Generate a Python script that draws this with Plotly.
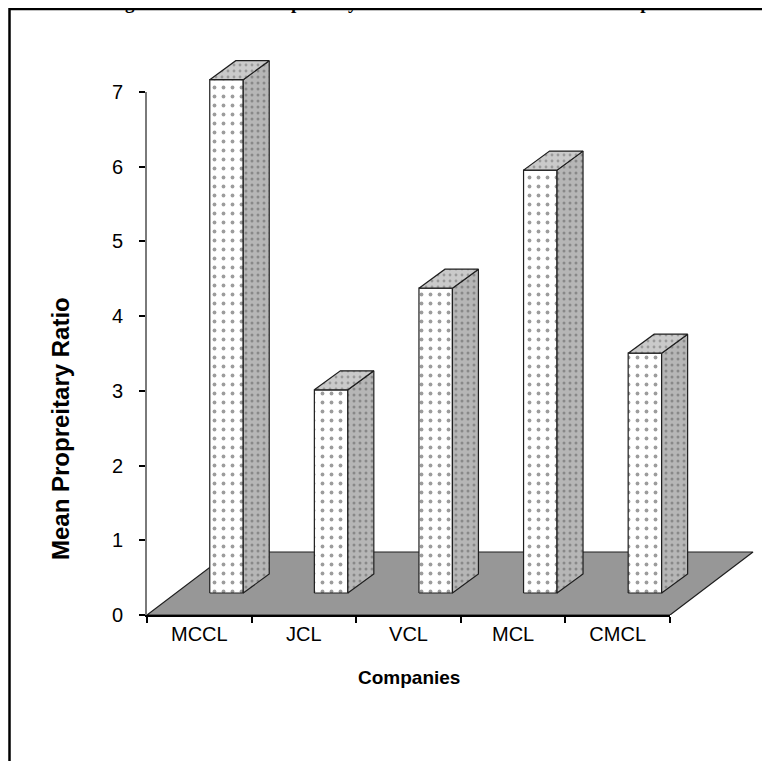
import plotly.graph_objects as go

W, H = 770, 761

companies = ["MCCL", "JCL", "VCL", "MCL", "CMCL"]
mean_ratio = [6.87, 2.72, 4.08, 5.66, 3.21]
y_ticks = [0, 1, 2, 3, 4, 5, 6, 7]

title_text = "Figure 4.12: Mean Proprietary Ratio of the Selected Cement Companies"
x_title = "Companies"
y_title = "Mean Propreitary Ratio"

# the page adds an 8px body margin; positions below are page pixels
OFF = 8

def fx(p):
    return (p - OFF) / W

def fy(p):
    return 1 - (p - OFF) / H

X0, X1 = 147, 670      # plot area x (page pixels)
Y0, Y7 = 615, 92       # y=0 and y=7 pixel rows
cat_px = (X1 - X0) / len(companies)
val_px = (Y0 - Y7) / 7.0

# 3-D projection parameters (in axis units)
floor_dx, floor_dy = 83 / cat_px, 63 / val_px
bar_left, bar_right = 0.10, 0.42
bar_base = 22 / val_px
bar_dx, bar_dy = 26 / cat_px, 19 / val_px

fig = go.Figure()

line = dict(color="#1e1e1e", width=1.2)

# floor
n = len(companies)
fig.add_trace(go.Scatter(
    x=[-0.5, n - 0.5, n - 0.5 + floor_dx, -0.5 + floor_dx, -0.5],
    y=[0, 0, floor_dy, floor_dy, 0],
    fill="toself", fillcolor="#979797", line=line, mode="lines",
    xaxis="x2", yaxis="y2", hoverinfo="skip", showlegend=False))

for i, v in enumerate(mean_ratio):
    xl, xr = i + bar_left, i + bar_right
    b, t = bar_base, bar_base + v
    # front face
    fig.add_trace(go.Scatter(
        x=[xl, xr, xr, xl, xl], y=[b, b, t, t, b],
        fill="toself", fillcolor="white", mode="lines", line=line,
        fillpattern=dict(shape=".", fgcolor="#3a3a3a", bgcolor="white",
                         size=9, solidity=0.14),
        xaxis="x2", yaxis="y2", name=companies[i], showlegend=False))
    # side face
    fig.add_trace(go.Scatter(
        x=[xr, xr + bar_dx, xr + bar_dx, xr, xr],
        y=[b, b + bar_dy, t + bar_dy, t, b],
        fill="toself", fillcolor="#b4b4b4", mode="lines", line=line,
        fillpattern=dict(shape=".", fgcolor="#5a5a5a", bgcolor="#b6b6b6",
                         size=6, solidity=0.2),
        xaxis="x2", yaxis="y2", hoverinfo="skip", showlegend=False))
    # top face
    fig.add_trace(go.Scatter(
        x=[xl, xr, xr + bar_dx, xl + bar_dx, xl],
        y=[t, t, t + bar_dy, t + bar_dy, t],
        fill="toself", fillcolor="#c6c6c6", mode="lines", line=line,
        fillpattern=dict(shape=".", fgcolor="#6a6a6a", bgcolor="#cacaca",
                         size=6, solidity=0.18),
        xaxis="x2", yaxis="y2", hoverinfo="skip", showlegend=False))

# invisible trace to establish the category axis
fig.add_trace(go.Scatter(x=companies, y=[None] * n, mode="markers",
                         showlegend=False, hoverinfo="skip"))

X2R, Y2T = 768, 20
x2_max = -0.5 + (X2R - X0) / cat_px
y2_max = (Y0 - Y2T) / val_px

fig.update_layout(
    width=W, height=H,
    margin=dict(l=0, r=0, t=0, b=0, autoexpand=False),
    paper_bgcolor="white", plot_bgcolor="rgba(0,0,0,0)",
    font=dict(family="Liberation Sans, Arial, sans-serif", color="black"),
    title=dict(text="<b>%s</b>" % title_text, xref="container",
               yref="container", x=fx(400), xanchor="center",
               y=1 - 1 / H, yanchor="bottom",
               font=dict(size=19, color="black",
                         family="Liberation Serif, Times New Roman, serif")),
    xaxis=dict(domain=[fx(X0), fx(X1)], type="category",
               categoryorder="array", categoryarray=companies,
               range=[-0.5, n - 0.5], tickson="boundaries",
               ticks="outside", ticklen=6, tickwidth=1.5, tickcolor="black",
               showline=True, linecolor="black", linewidth=1.5,
               showgrid=False, zeroline=False, anchor="y",
               tickfont=dict(size=20, color="black")),
    yaxis=dict(domain=[fy(Y0), fy(Y7)], range=[0, 7],
               tickvals=y_ticks, ticks="outside", ticklen=6, tickwidth=1.5,
               tickcolor="black", showline=True, linecolor="#7a7a7a",
               linewidth=2, showgrid=False, zeroline=False, anchor="x",
               ticklabelstandoff=12,
               tickfont=dict(size=20, color="black")),
    xaxis2=dict(domain=[fx(X0), fx(X2R)], range=[-0.5, x2_max],
                visible=False, anchor="y2"),
    yaxis2=dict(domain=[fy(Y0), fy(Y2T)], range=[0, y2_max],
                visible=False, anchor="x2"),
    shapes=[dict(type="rect", xref="paper", yref="paper",
                 x0=fx(9.5), x1=fx(800), y0=fy(9), y1=fy(800),
                 line=dict(color="black", width=2.5), layer="above")],
    annotations=[
        dict(text="<b>%s</b>" % x_title, xref="paper", yref="paper",
             x=fx(409), y=fy(677), xanchor="center", yanchor="middle",
             showarrow=False, font=dict(size=19, color="black")),
        dict(text="<b>%s</b>" % y_title, xref="paper", yref="paper",
             x=fx(60), y=fy(429), xanchor="center", yanchor="middle",
             showarrow=False, textangle=-90,
             font=dict(size=24, color="black")),
    ],
)

fig.write_html("out.html")
